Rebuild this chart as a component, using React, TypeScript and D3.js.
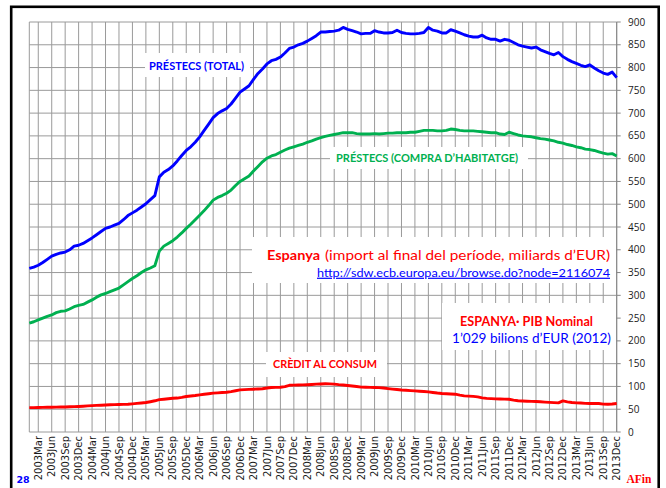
import React from 'react';
import * as d3 from 'd3';

const YEARS = [2003, 2004, 2005, 2006, 2007, 2008, 2009, 2010, 2011, 2012, 2013];
const MONTH_ABBR = ['Jan', 'Feb', 'Mar', 'Apr', 'May', 'Jun', 'Jul', 'Aug', 'Sep', 'Oct', 'Nov', 'Dec'];
const MONTHS = YEARS.flatMap((yr) => MONTH_ABBR.map((m) => `${yr}${m}`));

const TICK_LABELS = [
  '2003Mar', '2003Jun', '2003Sep', '2003Dec', '2004Mar', '2004Jun', '2004Sep', '2004Dec',
  '2005Mar', '2005Jun', '2005Sep', '2005Dec', '2006Mar', '2006Jun', '2006Sep', '2006Dec',
  '2007Mar', '2007Jun', '2007Sep', '2007Dec', '2008Mar', '2008Jun', '2008Sep', '2008Dec',
  '2009Mar', '2009Jun', '2009Sep', '2009Dec', '2010Mar', '2010Jun', '2010Sep', '2010Dec',
  '2011Mar', '2011Jun', '2011Sep', '2011Dec', '2012Mar', '2012Jun', '2012Sep', '2012Dec',
  '2013Mar', '2013Jun', '2013Sep', '2013Dec',
];

const Y_TICKS = [0, 50, 100, 150, 200, 250, 300, 350, 400, 450, 500, 550, 600, 650, 700, 750, 800, 850, 900];

// PRÉSTECS (TOTAL), monthly 2003Jan..2013Dec
const PRESTECS_TOTAL = [
  359, 362, 366, 372, 379, 386, 390, 393, 395, 400, 408, 410,
  414, 420, 426, 433, 440, 447, 450, 454, 458, 466, 475, 481,
  487, 494, 501, 510, 519, 560, 570, 576, 584, 595, 607, 618,
  626, 636, 648, 662, 676, 690, 699, 705, 710, 720, 733, 746,
  753, 760, 774, 787, 797, 808, 815, 818, 823, 832, 842, 845,
  850, 853, 858, 864, 870, 878, 878, 879, 880, 882, 888, 884,
  881, 878, 874, 875, 875, 881, 878, 876, 876, 877, 882, 877,
  875, 874, 874, 875, 877, 888, 882, 880, 876, 876, 883, 880,
  876, 872, 869, 867, 867, 871, 865, 862, 862, 858, 862, 860,
  855, 850, 847, 845, 843, 845, 839, 835, 831, 828, 833, 824,
  818, 813, 809, 805, 802, 806, 799, 793, 788, 785, 790, 778,
];

// PRÉSTECS (COMPRA D'HABITATGE)
const PRESTECS_HABITATGE = [
  239, 242, 246, 250, 254, 257, 262, 265, 266, 270, 275, 278,
  280, 285, 290, 296, 301, 304, 308, 312, 316, 323, 330, 337,
  343, 350, 356, 360, 365, 397, 408, 414, 420, 428, 437, 447,
  456, 466, 476, 486, 497, 509, 515, 519, 524, 531, 541, 550,
  556, 562, 573, 583, 593, 601, 606, 609, 614, 619, 623, 626,
  629, 632, 636, 639, 643, 646, 649, 651, 653, 655, 657, 657,
  657, 655, 654, 654, 654, 655, 654, 655, 656, 656, 657, 657,
  657, 658, 658, 660, 662, 662, 662, 661, 661, 662, 665, 664,
  662, 661, 661, 661, 660, 659, 658, 657, 657, 654, 653, 658,
  655, 652, 650, 649, 648, 646, 644, 643, 641, 639, 636, 634,
  631, 629, 626, 624, 621, 620, 618, 615, 612, 610, 611, 606,
];

// CRÈDIT AL CONSUM
const CREDIT_CONSUM = [
  53.5, 53.5, 53.8, 54, 54.2, 54.4, 54.6, 54.8, 55, 55.3, 55.6, 56,
  56.6, 57.3, 58, 58.4, 58.8, 59.3, 59.7, 60, 60.3, 60.6, 61, 61.8,
  62.8, 63.8, 64.7, 66.5, 68.5, 71, 72, 73, 74, 74.5, 76, 78,
  79, 80, 81.5, 82.8, 84, 85.3, 86, 86.8, 87.3, 88.5, 90.5, 92.5,
  93, 93.5, 94, 94.5, 95, 96.5, 97.8, 98, 98.3, 99.5, 102.5, 103,
  103.2, 103.5, 103.8, 104.3, 105, 105.5, 106, 105.6, 105, 104, 103.3, 102.2,
  101, 99.8, 98.6, 98.3, 98, 97.8, 97.5, 96.5, 95.3, 94.2, 93.2, 92.2,
  91.5, 90.8, 90.2, 89.5, 89, 88, 86.8, 85.5, 84.6, 84, 83.5, 83,
  81, 79.4, 78.8, 78.2, 77, 75, 73.8, 73.2, 72.8, 72.5, 72.2, 71.8,
  70, 68.5, 68, 67.6, 67.2, 66.9, 66.3, 65.6, 65, 64.5, 64, 68.4,
  66, 64.7, 64, 63.5, 62.8, 62.5, 62.5, 62.5, 61.2, 61, 61.5, 62.5,
];

const FONT = 'Lato, "Open Sans", sans-serif';
const GRID = '#9a9a9a';

export default function App() {
  const W = 666;
  const H = 488;
  const left = 29.3;
  const right = 616.7;
  const top = 22;
  const bottom = 432;

  const x = d3.scaleLinear().domain([0, MONTHS.length - 1]).range([left, right]);
  const y = d3.scaleLinear().domain([0, 900]).range([bottom, top]);
  const line = d3
    .line<number>()
    .x((_, i) => x(i))
    .y((d) => y(d));

  const tickIdx = TICK_LABELS.map((t) => MONTHS.indexOf(t));

  return (
    <svg
      width={W}
      height={H}
      viewBox={`0 0 ${W} ${H}`}
      style={{ position: 'absolute', left: 0, top: 0, background: '#fff' }}
    >
      <rect x={0} y={0} width={W} height={H} fill="#fff" />
      {/* frame */}
      <rect x={11.2} y={6.8} width={647.5} height={520} fill="none" stroke="#000" strokeWidth={2.6} />

      {/* horizontal grid */}
      {Y_TICKS.map((t) => (
        <line key={'h' + t} x1={left} x2={right} y1={y(t)} y2={y(t)} stroke={GRID} strokeWidth={1} />
      ))}
      {/* vertical grid */}
      <line x1={left} x2={left} y1={top} y2={bottom} stroke={GRID} strokeWidth={1} />
      {tickIdx.map((i) => (
        <line key={'v' + i} x1={x(i)} x2={x(i)} y1={top} y2={bottom} stroke={GRID} strokeWidth={1} />
      ))}
      {/* right axis */}
      <line x1={right} x2={right} y1={top} y2={bottom} stroke="#868686" strokeWidth={1} />
      {Y_TICKS.map((t) => (
        <line key={'rt' + t} x1={right} x2={right + 4} y1={y(t)} y2={y(t)} stroke="#868686" strokeWidth={1} />
      ))}
      {Y_TICKS.map((t) => (
        <text
          key={'rl' + t}
          x={628}
          y={y(t) + 3.6}
          fontFamily={'"Open Sans", sans-serif'}
          fontSize={10}
          fill="#1a1a1a"
        >
          {t}
        </text>
      ))}
      {/* x labels */}
      {TICK_LABELS.map((lab, k) => (
        <text
          key={'xl' + lab}
          transform={`translate(${x(tickIdx[k]) + 3.6},436) rotate(-90)`}
          textAnchor="end"
          fontFamily={'"DejaVu Sans", sans-serif'}
          fontSize={10}
          fill="#1a1a1a"
        >
          {lab}
        </text>
      ))}

      {/* lines */}
      <path d={line(CREDIT_CONSUM) || ''} fill="none" stroke="#ff0000" strokeWidth={2.9} strokeLinejoin="round" />
      <path d={line(PRESTECS_HABITATGE) || ''} fill="none" stroke="#00b050" strokeWidth={2.9} strokeLinejoin="round" />
      <path d={line(PRESTECS_TOTAL) || ''} fill="none" stroke="#0000ff" strokeWidth={2.9} strokeLinejoin="round" />

      {/* annotation boxes */}
      <rect x={145} y={53} width={105} height={24} fill="#fff" />
      <text x={149} y={70} fontFamily={FONT} fontWeight="bold" fontSize={10.5} fill="#0000ff" textLength={95} lengthAdjust="spacingAndGlyphs">
        PRÉSTECS (TOTAL)
      </text>

      <rect x={330} y={147} width={198} height={22} fill="#fff" />
      <text x={336} y={161.5} fontFamily={FONT} fontWeight="bold" fontSize={10.5} fill="#00b050" textLength={182} lengthAdjust="spacingAndGlyphs">
        PRÉSTECS (COMPRA D’HABITATGE)
      </text>

      <rect x={252} y={237} width={364} height={46} fill="#fff" />
      <text x={267} y={259.5} fontFamily={FONT} fontWeight="bold" fontSize={13.5} fill="#ff0000" textLength={53} lengthAdjust="spacingAndGlyphs">
        Espanya
      </text>
      <text x={325} y={259.5} fontFamily={FONT} fontSize={13.5} fill="#ff0000" textLength={285} lengthAdjust="spacingAndGlyphs">
        (import al final del període, miliards d’EUR)
      </text>
      <text x={317} y={276.7} fontFamily={FONT} fontSize={12} fill="#0000ff" textLength={293} lengthAdjust="spacingAndGlyphs" textDecoration="underline">
        http://sdw.ecb.europa.eu/browse.do?node=2116074
      </text>

      <rect x={442} y={303} width={174} height={47} fill="#fff" />
      <text x={460} y={325.7} fontFamily={FONT} fontWeight="bold" fontSize={12.5} fill="#ff0000" textLength={133} lengthAdjust="spacingAndGlyphs">
        ESPANYA· PIB Nominal
      </text>
      <text x={452} y={343.3} fontFamily={FONT} fontSize={13} fill="#0000ff" textLength={159} lengthAdjust="spacingAndGlyphs">
        1’029 bilions d’EUR (2012)
      </text>

      <rect x={266} y={352} width={121} height={25} fill="#fff" />
      <text x={273} y={367.7} fontFamily={FONT} fontWeight="bold" fontSize={10.5} fill="#ff0000" textLength={104} lengthAdjust="spacingAndGlyphs">
        CRÈDIT AL CONSUM
      </text>

      {/* page number & logo */}
      <text x={16.5} y={483.3} fontFamily={'"DejaVu Sans", sans-serif'} fontWeight="bold" fontSize={9.5} fill="#0000ff">
        28
      </text>
      <text x={626.5} y={483.3} fontFamily={'"Liberation Serif", serif'} fontWeight="bold" fontSize={11.5} fill="#ff0000">
        AFin
      </text>
    </svg>
  );
}
